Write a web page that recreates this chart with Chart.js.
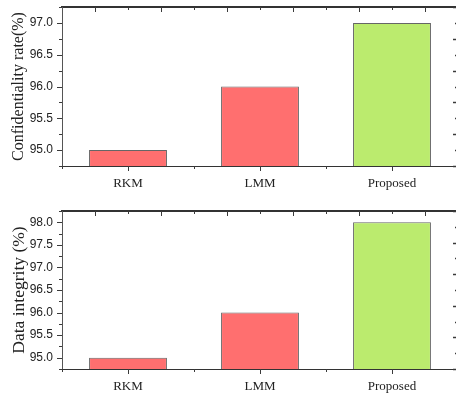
<!DOCTYPE html>
<html>
<head>
<meta charset="utf-8">
<script src="https://cdn.jsdelivr.net/npm/chart.js@4/dist/chart.umd.min.js"></script>
<style>
  html, body { margin: 0; padding: 0; background: #fff; overflow: hidden; width: 456px; height: 394px; }
  canvas { position: absolute; left: 0; display: block; }
  #c1 { top: 0; }
  #c2 { top: 195px; }
</style>
</head>
<body>
<canvas id="c1" width="460" height="195"></canvas>
<canvas id="c2" width="460" height="199"></canvas>
<script>
// Methods compared
const categories = ['RKM', 'LMM', 'Proposed'];

// Confidentiality rate (%) per method
const confidentialityRate = [95.0, 96.0, 97.0];
const confidentialityTicks = [95.0, 95.5, 96.0, 96.5, 97.0];

// Data integrity (%) per method
const dataIntegrity = [95.0, 96.0, 98.0];
const integrityTicks = [95.0, 95.5, 96.0, 96.5, 97.0, 97.5, 98.0];

const barColors = ['#FF6F6F', '#FF6F6F', '#BBEB6E'];

// Draws the small tick marks on all four sides of the frame
const tickMarks = {
  id: 'tickMarks',
  afterDraw(chart) {
    const ctx = chart.ctx;
    const { x, y, xTop, yRight } = chart.scales;
    const a = chart.chartArea;
    const seg = (x1, y1, x2, y2) => { ctx.beginPath(); ctx.moveTo(x1, y1); ctx.lineTo(x2, y2); ctx.stroke(); };
    ctx.save();
    ctx.strokeStyle = '#3a3a3a';
    ctx.lineWidth = 1;
    // left value axis: labelled every 0.5, minor every 0.25, pointing outward
    for (let v = Math.ceil(y.min / 0.25) * 0.25; v <= y.max + 1e-9; v += 0.25) {
      const py = Math.round(y.getPixelForValue(v)) + 0.5;
      const major = Math.abs(v * 2 - Math.round(v * 2)) < 1e-6;
      seg(a.left - (major ? 5 : 3), py, a.left, py);
    }
    // bottom category axis: centre ticks and boundary ticks, pointing outward
    for (let i = 0; i < categories.length; i++) {
      const px = Math.round(x.getPixelForValue(i)) + 0.5;
      seg(px, a.bottom, px, a.bottom + 5);
    }
    for (let i = 0; i <= categories.length; i++) {
      const px = Math.round(x.getPixelForValue(i - 0.5)) + 0.5;
      seg(px, a.bottom, px, a.bottom + 3);
    }
    // top mirror axis, pointing inward
    for (let v = xTop.min; v <= xTop.max; v += 1) {
      const px = Math.round(xTop.getPixelForValue(v)) + 0.5;
      seg(px, a.top, px, a.top + (v % 2 === 0 ? 5 : 3));
    }
    // right mirror axis, pointing inward
    ctx.lineWidth = 1.5;
    for (let v = yRight.min; v <= yRight.max + 1e-9; v += 0.5) {
      const py = Math.round(yRight.getPixelForValue(v)) + 0.5;
      seg(a.right - (Number.isInteger(v) ? 5 : 3), py, a.right, py);
    }
    ctx.restore();
  }
};

function makeChart(id, values, yMin, yMax, yTicks, title, titleSize, topGap, bottomGap) {
  const canvas = document.getElementById(id);
  return new Chart(canvas, {
    type: 'bar',
    data: {
      labels: categories,
      datasets: [{
        data: values,
        backgroundColor: barColors,
        borderColor: '#666666',
        borderWidth: 1,
        borderSkipped: false,
        barPercentage: 0.59,
        categoryPercentage: 1.0
      }]
    },
    options: {
      responsive: false,
      animation: false,
      events: [],
      layout: { padding: 0 },
      plugins: { legend: { display: false }, tooltip: { enabled: false } },
      scales: {
        x: {
          type: 'category',
          position: 'bottom',
          grid: { display: false, drawTicks: false },
          border: { display: true, color: '#333333', width: 1 },
          ticks: {
            padding: 10,
            color: '#222222',
            font: { family: 'Liberation Serif', size: 13 },
            maxRotation: 0
          },
          afterFit(s) { s.height = bottomGap; s.paddingLeft = 0; s.paddingRight = 0; }
        },
        xTop: {
          type: 'linear',
          axis: 'x',
          position: 'top',
          min: 0,
          max: 10,
          grid: { display: false, drawTicks: false },
          border: { display: true, color: '#333333', width: 2 },
          ticks: { display: false },
          afterFit(s) { s.height = topGap; }
        },
        y: {
          type: 'linear',
          position: 'left',
          min: yMin,
          max: yMax,
          grid: { display: false, drawTicks: false },
          border: { display: true, color: '#555555', width: 1 },
          afterBuildTicks(s) { s.ticks = yTicks.map(v => ({ value: v })); },
          ticks: {
            padding: 9,
            color: '#222222',
            font: { family: 'Liberation Sans', size: 12 },
            callback: v => Number(v).toFixed(1)
          },
          title: {
            display: true,
            text: title,
            color: '#222222',
            font: { family: 'Liberation Serif', size: titleSize },
            padding: { top: 9, bottom: 0 }
          },
          afterFit(s) { s.width = 62; s.paddingTop = 0; s.paddingBottom = 0; }
        },
        yRight: {
          type: 'linear',
          axis: 'y',
          position: 'right',
          min: 0,
          max: 5,
          grid: { display: false, drawTicks: false },
          border: { display: true, color: '#333333', width: 1 },
          ticks: { display: false },
          afterFit(s) { s.width = 2; s.paddingTop = 0; s.paddingBottom = 0; }
        }
      }
    },
    plugins: [tickMarks]
  });
}

makeChart('c1', confidentialityRate, 94.75, 97.25, confidentialityTicks,
  'Confidentiality rate(%)', 16, 7, 29);
makeChart('c2', dataIntegrity, 94.75, 98.25, integrityTicks,
  'Data integrity (%)', 17.5, 16, 25);
</script>
</body>
</html>
